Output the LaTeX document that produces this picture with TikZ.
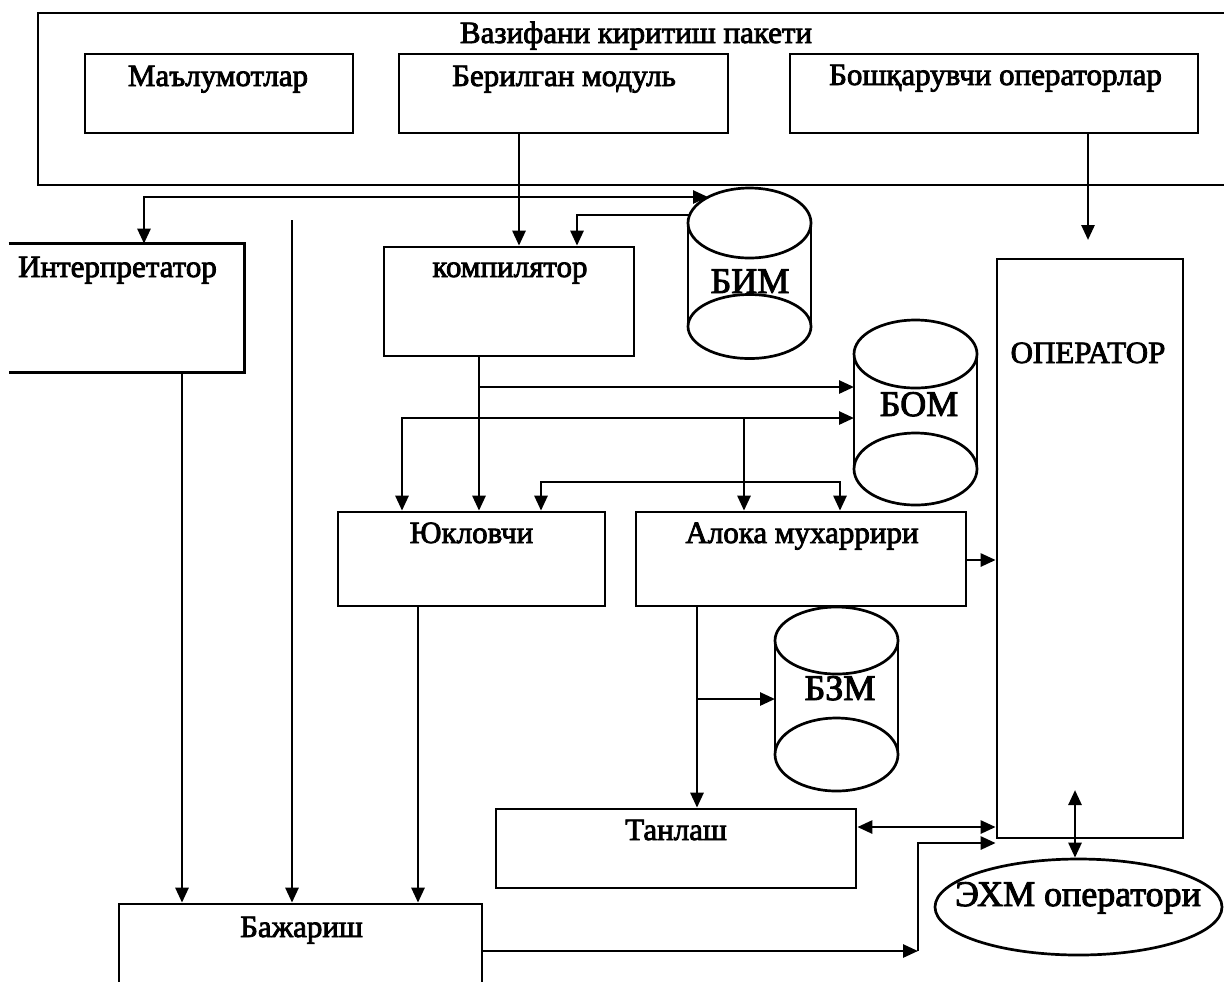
\documentclass[tikz,border=0pt]{standalone}
\usepackage{fontspec}
\setmainfont{Liberation Serif}
\newfontfamily\heavy{Liberation Serif}[FakeBold=2.6]
\usetikzlibrary{arrows.meta,calc,shapes.geometric}
\begin{document}
\begin{tikzpicture}[x=0.5pt,y=-0.5pt,line width=1.35pt,
  box/.style={draw, rectangle, inner sep=0pt, line width=1.35pt},
  hid/.style={rectangle, inner sep=0pt},
  lab/.style={font=\heavy\fontsize{15.5}{18}\selectfont, inner sep=0pt, anchor=base},
  big/.style={font=\heavy\fontsize{18}{21}\selectfont, inner sep=0pt, anchor=base},
  arr/.style={-{Triangle[length=7.5pt,width=6.5pt]}},
  arr2/.style={{Triangle[length=7.5pt,width=6.5pt]}-{Triangle[length=7.5pt,width=6.5pt]}},
]
\clip (0,0) rectangle (1224,981);
\fill[white] (0,0) rectangle (1224,981);

% boxes
\node[box, minimum width=1202*0.5pt, minimum height=172*0.5pt] (pkg) at (639,99) {};
\node[box, minimum width=268*0.5pt, minimum height=79*0.5pt] (mal) at (219,93.5) {};
\node[box, minimum width=329*0.5pt, minimum height=79*0.5pt] (ber) at (563.5,93.5) {};
\node[box, minimum width=408*0.5pt, minimum height=79*0.5pt] (bosh) at (994,93.5) {};
\node[hid, minimum width=233*0.5pt, minimum height=126*0.5pt] (intp) at (126.5,308) {};
\draw (intp.north west) -- (intp.north east) -- (intp.south east) -- (intp.south west);
\node[box, minimum width=250*0.5pt, minimum height=109*0.5pt] (comp) at (509,301.5) {};
\node[box, minimum width=186*0.5pt, minimum height=579*0.5pt] (op) at (1090,548.5) {};
\node[box, minimum width=267*0.5pt, minimum height=94*0.5pt] (yuk) at (471.5,559) {};
\node[box, minimum width=330*0.5pt, minimum height=94*0.5pt] (alo) at (801,559) {};
\node[box, minimum width=360*0.5pt, minimum height=79*0.5pt] (tan) at (676,848.5) {};
\node[box, minimum width=363*0.5pt, minimum height=96*0.5pt] (baj) at (300.5,952) {};
\node[draw, ellipse, inner sep=0pt, minimum width=287*0.5pt, minimum height=96*0.5pt] (exm) at (1078.5,907) {};

% cylinders
\node[hid, minimum width=123*0.5pt, minimum height=170*0.5pt] (bim) at (749.5,273) {};
\draw (749.5,223) ellipse [x radius=61.5, y radius=35];
\draw (749.5,326.5) ellipse [x radius=61.5, y radius=32];
\draw (688,223) -- (688,326.5) (811,223) -- (811,326.5);
\node[hid, minimum width=123*0.5pt, minimum height=185*0.5pt] (bom) at (915.5,412.5) {};
\draw (915.5,354) ellipse [x radius=61.5, y radius=34];
\draw (915.5,469) ellipse [x radius=61.5, y radius=36];
\draw (854,354) -- (854,469) (977,354) -- (977,469);
\node[hid, minimum width=123*0.5pt, minimum height=184*0.5pt] (bzm) at (836.5,699) {};
\draw (836.5,640.5) ellipse [x radius=61.5, y radius=33.5];
\draw (836.5,754.5) ellipse [x radius=61.5, y radius=36.5];
\draw (775,640.5) -- (775,754.5) (898,640.5) -- (898,754.5);

% texts
\node[lab] (tPkg) at (636,43) {Вазифани киритиш пакети};
\node[lab] (tMal) at (218,86) {Маълумотлар};
\node[lab] (tBer) at (564,86) {Берилган модуль};
\node[lab] (tBosh) at (995.5,85) {Бошқарувчи операторлар};
\node[lab] (tInt) at (117.5,277) {Интерпретатор};
\node[lab] (tComp) at (510,277) {компилятор};
\node[big] (tBim) at (750,293) {БИМ};
\node[lab] (tOp) at (1088,363) {ОПЕРАТОР};
\node[big] (tBom) at (919,416) {БОМ};
\node[lab] (tYuk) at (471.5,543) {Юкловчи};
\node[lab] (tAlo) at (802,543) {Алока мухаррири};
\node[big] (tBzm) at (840,700) {БЗМ};
\node[lab] (tTan) at (676,840) {Танлаш};
\node[lab] (tBaj) at (301.5,937) {Бажариш};
\node[big] (tExm) at (1078,906) {ЭХМ оператори};

% connectors
\coordinate (cB) at (519,0);
\draw[arr] (ber.south -| cB) -- (comp.north -| cB);
\coordinate (cO) at (1088,240);
\draw[arr] (bosh.south -| cO) -- (cO);
\coordinate (bimA) at (708,197);
\coordinate (cI) at (144,0);
\draw[arr2] (intp.north -| cI) |- (bimA);
\coordinate (bimB) at (690,215);
\coordinate (cK) at (577,0);
\draw[arr] (bimB) -| (comp.north -| cK);
\coordinate (vtop) at (292,220);
\draw[arr] (vtop) -- (baj.north -| vtop);
\coordinate (cI2) at (182,0);
\draw[arr] (intp.south -| cI2) -- (baj.north -| cI2);
\coordinate (cC) at (479,0);
\draw[arr] (comp.south -| cC) -- (yuk.north -| cC);
\coordinate (bomA) at (854,387);
\draw[arr] (bomA -| cC) -- (bomA);
\coordinate (bomB) at (854,418);
\coordinate (cY) at (402,0);
\draw[arr2] (yuk.north -| cY) |- (bomB);
\coordinate (cA) at (744,0);
\draw[arr] (bomB -| cA) -- (alo.north -| cA);
\coordinate (cY2) at (541,482);
\coordinate (cA2) at (840,482);
\draw[arr2] (yuk.north -| cY2) -- (cY2) -- (cA2) -- (alo.north -| cA2);
\coordinate (r560) at (0,560);
\draw[arr] (alo.east |- r560) -- (op.west |- r560);
\coordinate (cY3) at (418,0);
\draw[arr] (yuk.south -| cY3) -- (baj.north -| cY3);
\coordinate (cL) at (697,0);
\draw[arr] (alo.south -| cL) -- (tan.north -| cL);
\coordinate (bzmA) at (775,699);
\draw[arr] (bzmA -| cL) -- (bzmA);
\coordinate (r827) at (0,827);
\draw[arr2] (tan.east |- r827) -- (op.west |- r827);
\coordinate (jB) at (918,951);
\draw[arr] (baj.east |- jB) -- (jB);
\coordinate (r843) at (0,843);
\draw[arr] (jB) -- (jB |- r843) -- (op.west |- r843);
\coordinate (eTop) at (1075,790);
\draw[arr2] (eTop) -- (exm.north -| eTop);
\end{tikzpicture}
\end{document}
